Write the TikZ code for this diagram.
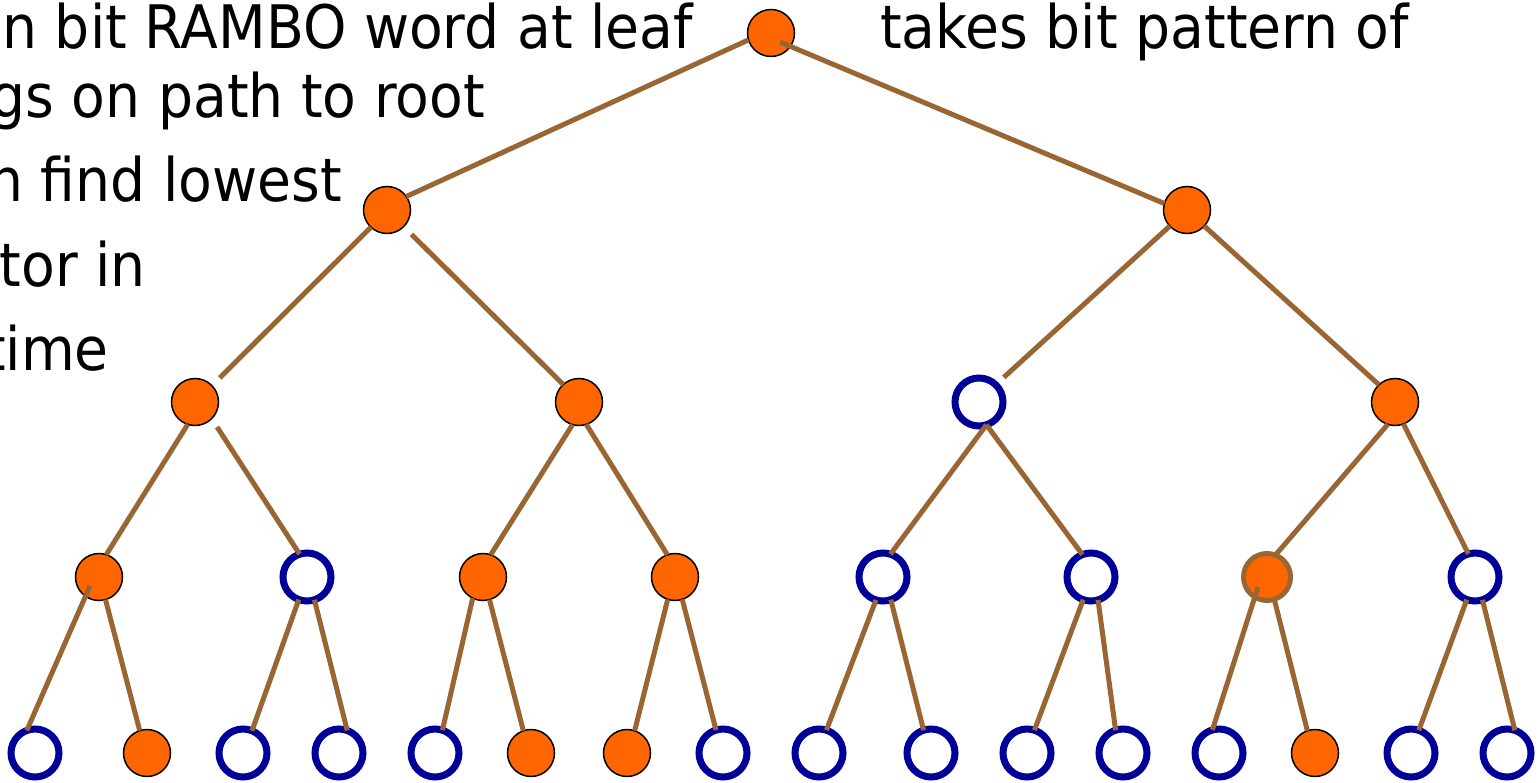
\documentclass[tikz,border=0pt]{standalone}
\usepackage{fontspec}
\setmainfont{DejaVu Sans}[FakeStretch=0.92]
\usetikzlibrary{calc}
\definecolor{bitorange}{HTML}{FF6600}
\definecolor{bitblue}{HTML}{000099}
\definecolor{twig}{HTML}{996633}
\tikzset{
  bitone/.style={circle, draw=black, line width=1.5pt, fill=bitorange, minimum size=47pt, inner sep=0pt, outer sep=0pt},
  bitzero/.style={circle, draw=bitblue, line width=7pt, fill=white, minimum size=48pt, inner sep=0pt, outer sep=0pt},
  bitmark/.style={bitone, draw=twig, line width=5pt},
  link/.style={draw=twig, line width=5pt},
  txt/.style={inner sep=0pt, font=\fontsize{60}{72}\selectfont},
}

\begin{document}
\begin{tikzpicture}[x=1pt, y=1pt]
    \useasboundingbox[fill=white] (0,0) rectangle (1538,-783);
    % text of the slide
    \node[txt, anchor=base east] (note1) at (693,-49) {n bit RAMBO word at leaf};
    \node[txt, anchor=base east] (note2) at (485,-118) {gs on path to root};
    \node[txt, anchor=base east] (note3) at (342,-202) {n find lowest};
    \node[txt, anchor=base east] (note4) at (146,-287) {tor in};
    \node[txt, anchor=base east] (note5) at (109,-370) {time};
    \node[txt, anchor=base west] (rhs) at (880,-49) {takes bit pattern of};
    % tree, named by bit string
    \node[bitone] (r) at (771,-33) {};
    \foreach \x/\n/\s in {387/0/bitone, 1187/1/bitone}
      \node[\s] (r\n) at (\x,-210) {};
    \foreach \x/\n/\s in {195/00/bitone, 579/01/bitone, 979/10/bitzero, 1395/11/bitone}
      \node[\s] (r\n) at (\x,-402) {};
    \foreach \x/\n/\s in {99/000/bitone, 307/001/bitzero, 483/010/bitone, 675/011/bitone,
        883/100/bitzero, 1091/101/bitzero, 1267/110/bitmark, 1475/111/bitzero}
      \node[\s] (r\n) at (\x,-577) {};
    \foreach \x/\n/\s in {35/0000/bitzero, 147/0001/bitone, 243/0010/bitzero, 339/0011/bitzero,
        435/0100/bitzero, 531/0101/bitone, 627/0110/bitone, 723/0111/bitzero,
        819/1000/bitzero, 931/1001/bitzero, 1027/1010/bitzero, 1123/1011/bitzero,
        1219/1100/bitzero, 1315/1101/bitone, 1411/1110/bitzero, 1507/1111/bitzero}
      \node[\s] (r\n) at (\x,-753) {};
    % branches
    \draw[link] (r.-163) -- (r0.35);
    \draw[link] ($(r)+(9,-9)$) -- (r1.164);
    \draw[link, shorten >=11pt] (r0.-133) -- (r00.44);
    \draw[link, shorten <=11pt] (r0.-45) -- (r01.132);
    \draw[link, shorten >=11pt] (r1.-137) -- (r10.46);
    \draw[link, shorten <=10pt] (r00.-45) -- (r001.108);
    \foreach \p/\a/\c/\b in {r1/-43/r11/133,
        r00/-108/r000/72, r01/-106/r010/71, r01/-72/r011/109,
        r10/-72/r100/72, r10/-72/r101/111, r11/-108/r110/69, r11/-69/r111/106,
        r000/-74/r0001/108, r001/-110/r0010/68, r001/-72/r0011/70,
        r010/-116/r0100/72, r010/-74/r0101/109, r011/-108/r0110/71, r011/-72/r0111/107,
        r100/-107/r1000/72, r100/-71/r1001/108, r101/-109/r1010/72, r101/-73/r1011/108,
        r110/-72/r1101/109, r111/-110/r1110/71, r111/-72/r1111/71}
      \draw[link] (\p.\a) -- (\c.\b);
    \draw[link] ($(r000)+(-9,-9)$) -- (r0000.110);
    \draw[link] ($(r110)+(-9,-10)$) -- (r1100.106);
\end{tikzpicture}
\end{document}
